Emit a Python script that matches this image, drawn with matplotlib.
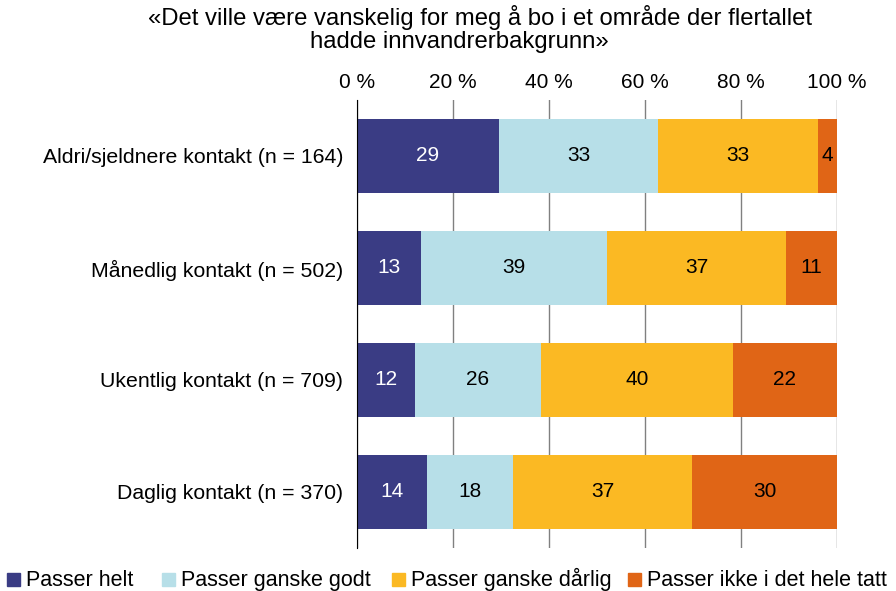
import matplotlib.pyplot as plt
import matplotlib.patches as mpatches
import numpy as np

plt.rcParams['font.family'] = ['Liberation Sans', 'DejaVu Sans']

# Data (percent)
categories = ["Aldri/sjeldnere kontakt (n = 164)", "Månedlig kontakt (n = 502)",
              "Ukentlig kontakt (n = 709)", "Daglig kontakt (n = 370)"]
series_names = ["Passer helt", "Passer ganske godt", "Passer ganske dårlig",
                "Passer ikke i det hele tatt"]
passer_helt = [29.6, 13.3, 12.1, 14.6]
ganske_godt = [33.1, 38.8, 26.2, 17.9]
ganske_darlig = [33.3, 37.3, 40.0, 37.3]
ikke_i_det_hele = [4.0, 10.6, 21.7, 30.2]
labels = [[29, 13, 12, 14], [33, 39, 26, 18], [33, 37, 40, 37], [4, 11, 22, 30]]
colors = ["#3a3c84", "#b7dfe8", "#fbb923", "#e06516"]
text_colors = ["white", "black", "black", "black"]
title_lines = ["«Det ville være vanskelig for meg å bo i et område der flertallet",
               "hadde innvandrerbakgrunn»"]

W, H = 896, 591
fig = plt.figure(figsize=(W / 100, H / 100), dpi=100)
ax = fig.add_axes([0.3984, 0.0728, 0.5358, 0.758])

y = np.arange(len(categories))
left = np.zeros(len(categories))
for i, vals in enumerate([passer_helt, ganske_godt, ganske_darlig, ikke_i_det_hele]):
    ax.barh(y, vals, left=left, height=0.667, color=colors[i], label=series_names[i], zorder=3)
    for j, v in enumerate(vals):
        ax.text(left[j] + v / 2, y[j], str(labels[i][j]), ha='center', va='center',
                color=text_colors[i], fontsize=15, zorder=4)
    left += np.array(vals)

ax.set_xlim(0, 100)
ax.set_ylim(3.5, -0.5)
ax.set_xticks(range(0, 101, 20))
ax.set_xticklabels([f"{t} %" for t in range(0, 101, 20)], fontsize=15)
ax.xaxis.tick_top()
ax.tick_params(axis='x', length=0, pad=6)
ax.tick_params(axis='y', length=0, pad=10)
ax.set_yticks(y)
ax.set_yticklabels(categories, fontsize=15.3)
ax.grid(axis='x', color='#808080', linewidth=1, zorder=0)
for s in ['top', 'right', 'bottom']:
    ax.spines[s].set_visible(False)
ax.spines['left'].set_color('black')
ax.spines['left'].set_zorder(5)

# title, two centred lines (second one sits a bit left in the original)
fig.text(480 / W, 1 - 18 / H, title_lines[0], ha='center', va='center', fontsize=17.2)
fig.text(459 / W, 1 - 42 / H, title_lines[1], ha='center', va='center', fontsize=17.2)

# legend drawn by hand so spacing follows the original
leg_x = [7, 162, 392, 628]
for i, name in enumerate(series_names):
    fig.patches.append(mpatches.Rectangle((leg_x[i] / W, 1 - 586 / H), 13 / W, 13 / H,
                                          transform=fig.transFigure, color=colors[i]))
    fig.text((leg_x[i] + 19) / W, 1 - 586 / H, name, ha='left', va='baseline', fontsize=15.5)

fig.savefig("out.png", dpi=100)
